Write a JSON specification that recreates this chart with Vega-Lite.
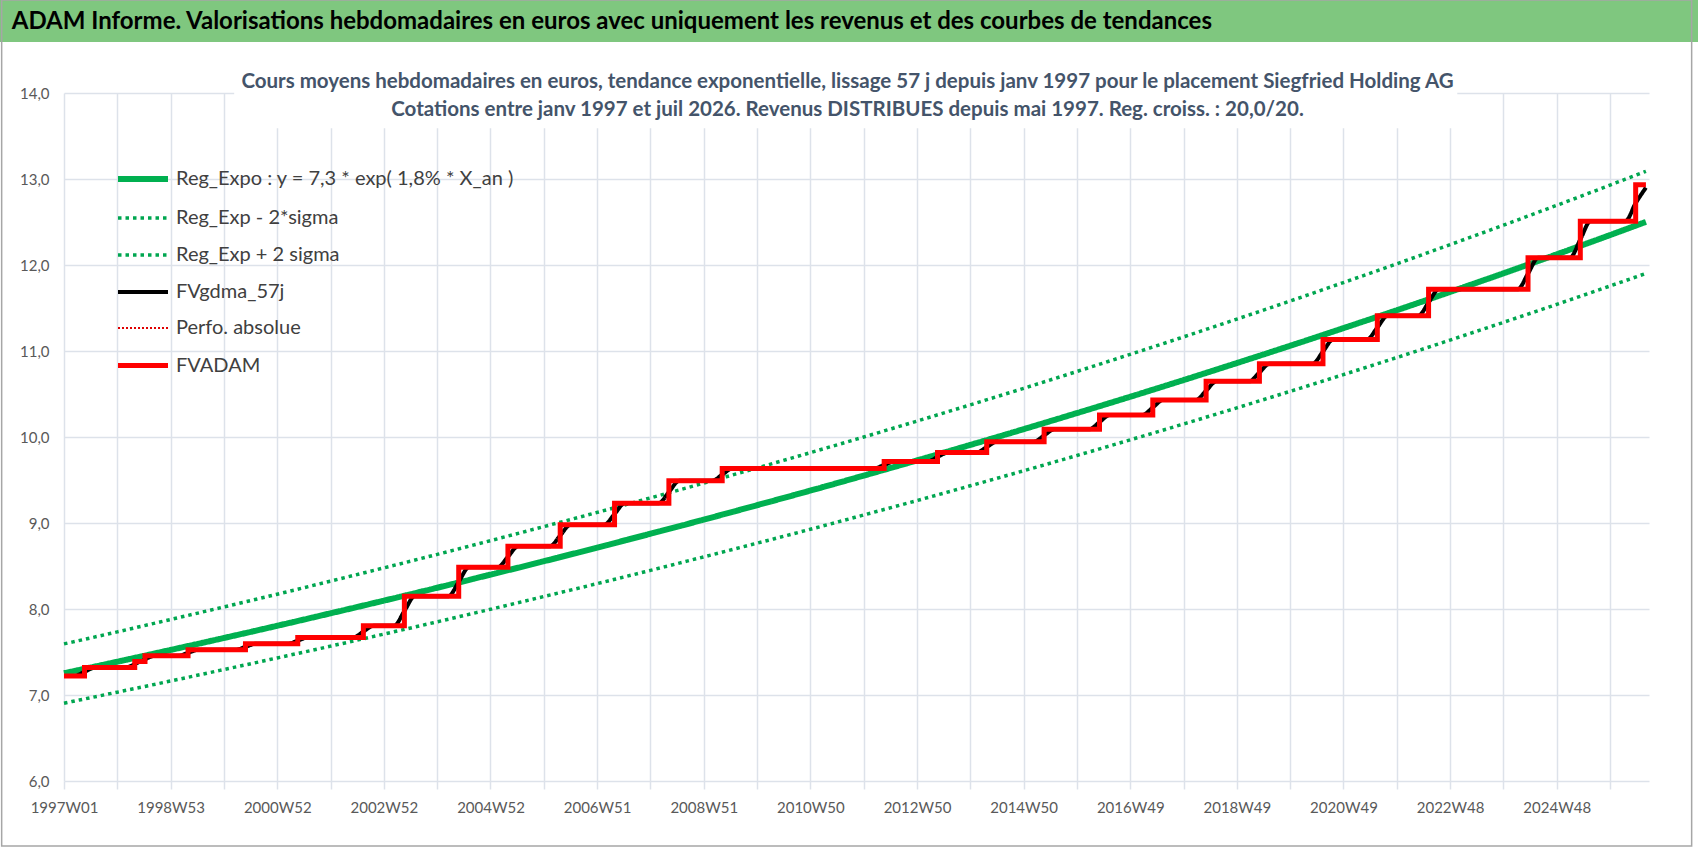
{
  "$schema": "https://vega.github.io/schema/vega-lite/v6.json",
  "autosize": {"type": "none"},
  "padding": {"left": 64, "top": 93, "right": 49, "bottom": 67},
  "width": 1585,
  "height": 688,
  "background": "white",
  "config": {
    "font": "Lato",
    "view": {"stroke": null}
  },
  "title": {
    "text": [
      "Cours moyens hebdomadaires en euros, tendance exponentielle, lissage 57 j depuis janv 1997 pour le placement Siegfried  Holding AG",
      "Cotations entre janv 1997 et juil 2026. Revenus DISTRIBUES depuis mai 1997. Reg. croiss. : 20,0/20."
    ],
    "font": "Lato",
    "fontSize": 20.5,
    "fontWeight": "bold",
    "color": "#44546a",
    "anchor": "middle",
    "frame": "group",
    "lineHeight": 28,
    "offset": -121,
    "dx": -9
  },
  "data": {
    "values": [
      {"s": "Reg_Expo : y = 7,3 * exp( 1,8% *  X_an )", "w": 0, "v": 7.253},
      {"s": "Reg_Expo : y = 7,3 * exp( 1,8% *  X_an )", "w": 52, "v": 7.387},
      {"s": "Reg_Expo : y = 7,3 * exp( 1,8% *  X_an )", "w": 104, "v": 7.524},
      {"s": "Reg_Expo : y = 7,3 * exp( 1,8% *  X_an )", "w": 156, "v": 7.663},
      {"s": "Reg_Expo : y = 7,3 * exp( 1,8% *  X_an )", "w": 208, "v": 7.805},
      {"s": "Reg_Expo : y = 7,3 * exp( 1,8% *  X_an )", "w": 260, "v": 7.950},
      {"s": "Reg_Expo : y = 7,3 * exp( 1,8% *  X_an )", "w": 312, "v": 8.097},
      {"s": "Reg_Expo : y = 7,3 * exp( 1,8% *  X_an )", "w": 364, "v": 8.247},
      {"s": "Reg_Expo : y = 7,3 * exp( 1,8% *  X_an )", "w": 416, "v": 8.400},
      {"s": "Reg_Expo : y = 7,3 * exp( 1,8% *  X_an )", "w": 468, "v": 8.555},
      {"s": "Reg_Expo : y = 7,3 * exp( 1,8% *  X_an )", "w": 520, "v": 8.714},
      {"s": "Reg_Expo : y = 7,3 * exp( 1,8% *  X_an )", "w": 572, "v": 8.875},
      {"s": "Reg_Expo : y = 7,3 * exp( 1,8% *  X_an )", "w": 624, "v": 9.039},
      {"s": "Reg_Expo : y = 7,3 * exp( 1,8% *  X_an )", "w": 676, "v": 9.207},
      {"s": "Reg_Expo : y = 7,3 * exp( 1,8% *  X_an )", "w": 728, "v": 9.377},
      {"s": "Reg_Expo : y = 7,3 * exp( 1,8% *  X_an )", "w": 780, "v": 9.551},
      {"s": "Reg_Expo : y = 7,3 * exp( 1,8% *  X_an )", "w": 832, "v": 9.728},
      {"s": "Reg_Expo : y = 7,3 * exp( 1,8% *  X_an )", "w": 884, "v": 9.908},
      {"s": "Reg_Expo : y = 7,3 * exp( 1,8% *  X_an )", "w": 936, "v": 10.091},
      {"s": "Reg_Expo : y = 7,3 * exp( 1,8% *  X_an )", "w": 988, "v": 10.278},
      {"s": "Reg_Expo : y = 7,3 * exp( 1,8% *  X_an )", "w": 1040, "v": 10.468},
      {"s": "Reg_Expo : y = 7,3 * exp( 1,8% *  X_an )", "w": 1092, "v": 10.662},
      {"s": "Reg_Expo : y = 7,3 * exp( 1,8% *  X_an )", "w": 1144, "v": 10.860},
      {"s": "Reg_Expo : y = 7,3 * exp( 1,8% *  X_an )", "w": 1196, "v": 11.061},
      {"s": "Reg_Expo : y = 7,3 * exp( 1,8% *  X_an )", "w": 1248, "v": 11.266},
      {"s": "Reg_Expo : y = 7,3 * exp( 1,8% *  X_an )", "w": 1300, "v": 11.474},
      {"s": "Reg_Expo : y = 7,3 * exp( 1,8% *  X_an )", "w": 1352, "v": 11.687},
      {"s": "Reg_Expo : y = 7,3 * exp( 1,8% *  X_an )", "w": 1404, "v": 11.903},
      {"s": "Reg_Expo : y = 7,3 * exp( 1,8% *  X_an )", "w": 1456, "v": 12.124},
      {"s": "Reg_Expo : y = 7,3 * exp( 1,8% *  X_an )", "w": 1508, "v": 12.348},
      {"s": "Reg_Expo : y = 7,3 * exp( 1,8% *  X_an )", "w": 1543, "v": 12.502},

      {"s": "Reg_Exp - 2*sigma", "w": 0, "v": 6.905},
      {"s": "Reg_Exp - 2*sigma", "w": 52, "v": 7.033},
      {"s": "Reg_Exp - 2*sigma", "w": 104, "v": 7.163},
      {"s": "Reg_Exp - 2*sigma", "w": 156, "v": 7.296},
      {"s": "Reg_Exp - 2*sigma", "w": 208, "v": 7.431},
      {"s": "Reg_Exp - 2*sigma", "w": 260, "v": 7.568},
      {"s": "Reg_Exp - 2*sigma", "w": 312, "v": 7.708},
      {"s": "Reg_Exp - 2*sigma", "w": 364, "v": 7.851},
      {"s": "Reg_Exp - 2*sigma", "w": 416, "v": 7.997},
      {"s": "Reg_Exp - 2*sigma", "w": 468, "v": 8.145},
      {"s": "Reg_Exp - 2*sigma", "w": 520, "v": 8.295},
      {"s": "Reg_Exp - 2*sigma", "w": 572, "v": 8.449},
      {"s": "Reg_Exp - 2*sigma", "w": 624, "v": 8.606},
      {"s": "Reg_Exp - 2*sigma", "w": 676, "v": 8.765},
      {"s": "Reg_Exp - 2*sigma", "w": 728, "v": 8.927},
      {"s": "Reg_Exp - 2*sigma", "w": 780, "v": 9.093},
      {"s": "Reg_Exp - 2*sigma", "w": 832, "v": 9.261},
      {"s": "Reg_Exp - 2*sigma", "w": 884, "v": 9.433},
      {"s": "Reg_Exp - 2*sigma", "w": 936, "v": 9.607},
      {"s": "Reg_Exp - 2*sigma", "w": 988, "v": 9.785},
      {"s": "Reg_Exp - 2*sigma", "w": 1040, "v": 9.967},
      {"s": "Reg_Exp - 2*sigma", "w": 1092, "v": 10.151},
      {"s": "Reg_Exp - 2*sigma", "w": 1144, "v": 10.339},
      {"s": "Reg_Exp - 2*sigma", "w": 1196, "v": 10.531},
      {"s": "Reg_Exp - 2*sigma", "w": 1248, "v": 10.726},
      {"s": "Reg_Exp - 2*sigma", "w": 1300, "v": 10.924},
      {"s": "Reg_Exp - 2*sigma", "w": 1352, "v": 11.127},
      {"s": "Reg_Exp - 2*sigma", "w": 1404, "v": 11.333},
      {"s": "Reg_Exp - 2*sigma", "w": 1456, "v": 11.542},
      {"s": "Reg_Exp - 2*sigma", "w": 1508, "v": 11.756},
      {"s": "Reg_Exp - 2*sigma", "w": 1543, "v": 11.902},

      {"s": "Reg_Exp + 2 sigma", "w": 0, "v": 7.594},
      {"s": "Reg_Exp + 2 sigma", "w": 52, "v": 7.734},
      {"s": "Reg_Exp + 2 sigma", "w": 104, "v": 7.878},
      {"s": "Reg_Exp + 2 sigma", "w": 156, "v": 8.024},
      {"s": "Reg_Exp + 2 sigma", "w": 208, "v": 8.172},
      {"s": "Reg_Exp + 2 sigma", "w": 260, "v": 8.324},
      {"s": "Reg_Exp + 2 sigma", "w": 312, "v": 8.478},
      {"s": "Reg_Exp + 2 sigma", "w": 364, "v": 8.635},
      {"s": "Reg_Exp + 2 sigma", "w": 416, "v": 8.795},
      {"s": "Reg_Exp + 2 sigma", "w": 468, "v": 8.958},
      {"s": "Reg_Exp + 2 sigma", "w": 520, "v": 9.123},
      {"s": "Reg_Exp + 2 sigma", "w": 572, "v": 9.292},
      {"s": "Reg_Exp + 2 sigma", "w": 624, "v": 9.464},
      {"s": "Reg_Exp + 2 sigma", "w": 676, "v": 9.640},
      {"s": "Reg_Exp + 2 sigma", "w": 728, "v": 9.818},
      {"s": "Reg_Exp + 2 sigma", "w": 780, "v": 10.000},
      {"s": "Reg_Exp + 2 sigma", "w": 832, "v": 10.185},
      {"s": "Reg_Exp + 2 sigma", "w": 884, "v": 10.374},
      {"s": "Reg_Exp + 2 sigma", "w": 936, "v": 10.566},
      {"s": "Reg_Exp + 2 sigma", "w": 988, "v": 10.762},
      {"s": "Reg_Exp + 2 sigma", "w": 1040, "v": 10.961},
      {"s": "Reg_Exp + 2 sigma", "w": 1092, "v": 11.164},
      {"s": "Reg_Exp + 2 sigma", "w": 1144, "v": 11.371},
      {"s": "Reg_Exp + 2 sigma", "w": 1196, "v": 11.581},
      {"s": "Reg_Exp + 2 sigma", "w": 1248, "v": 11.796},
      {"s": "Reg_Exp + 2 sigma", "w": 1300, "v": 12.014},
      {"s": "Reg_Exp + 2 sigma", "w": 1352, "v": 12.237},
      {"s": "Reg_Exp + 2 sigma", "w": 1404, "v": 12.463},
      {"s": "Reg_Exp + 2 sigma", "w": 1456, "v": 12.694},
      {"s": "Reg_Exp + 2 sigma", "w": 1508, "v": 12.929},
      {"s": "Reg_Exp + 2 sigma", "w": 1543, "v": 13.090},

      {"s": "FVgdma_57j", "w": 0, "v": 7.222}, {"s": "FVgdma_57j", "w": 10, "v": 7.222}, {"s": "FVgdma_57j", "w": 20, "v": 7.27}, {"s": "FVgdma_57j", "w": 30, "v": 7.319},
      {"s": "FVgdma_57j", "w": 59, "v": 7.319}, {"s": "FVgdma_57j", "w": 74, "v": 7.387}, {"s": "FVgdma_57j", "w": 89, "v": 7.455},
      {"s": "FVgdma_57j", "w": 111, "v": 7.455}, {"s": "FVgdma_57j", "w": 121, "v": 7.49}, {"s": "FVgdma_57j", "w": 131, "v": 7.525},
      {"s": "FVgdma_57j", "w": 167, "v": 7.525}, {"s": "FVgdma_57j", "w": 177, "v": 7.56}, {"s": "FVgdma_57j", "w": 187, "v": 7.595},
      {"s": "FVgdma_57j", "w": 218, "v": 7.595}, {"s": "FVgdma_57j", "w": 228, "v": 7.632}, {"s": "FVgdma_57j", "w": 238, "v": 7.669},
      {"s": "FVgdma_57j", "w": 282, "v": 7.669}, {"s": "FVgdma_57j", "w": 292, "v": 7.737}, {"s": "FVgdma_57j", "w": 302, "v": 7.805},
      {"s": "FVgdma_57j", "w": 322, "v": 7.805}, {"s": "FVgdma_57j", "w": 332, "v": 7.976}, {"s": "FVgdma_57j", "w": 342, "v": 8.148},
      {"s": "FVgdma_57j", "w": 375, "v": 8.148}, {"s": "FVgdma_57j", "w": 385, "v": 8.316}, {"s": "FVgdma_57j", "w": 395, "v": 8.485},
      {"s": "FVgdma_57j", "w": 423, "v": 8.485}, {"s": "FVgdma_57j", "w": 433, "v": 8.607}, {"s": "FVgdma_57j", "w": 443, "v": 8.73},
      {"s": "FVgdma_57j", "w": 474, "v": 8.73}, {"s": "FVgdma_57j", "w": 484, "v": 8.855}, {"s": "FVgdma_57j", "w": 494, "v": 8.98},
      {"s": "FVgdma_57j", "w": 527, "v": 8.98}, {"s": "FVgdma_57j", "w": 537, "v": 9.105}, {"s": "FVgdma_57j", "w": 547, "v": 9.23},
      {"s": "FVgdma_57j", "w": 580, "v": 9.23}, {"s": "FVgdma_57j", "w": 590, "v": 9.36}, {"s": "FVgdma_57j", "w": 600, "v": 9.49},
      {"s": "FVgdma_57j", "w": 632, "v": 9.49}, {"s": "FVgdma_57j", "w": 642, "v": 9.562}, {"s": "FVgdma_57j", "w": 652, "v": 9.635},
      {"s": "FVgdma_57j", "w": 790, "v": 9.635}, {"s": "FVgdma_57j", "w": 800, "v": 9.675}, {"s": "FVgdma_57j", "w": 810, "v": 9.715},
      {"s": "FVgdma_57j", "w": 842, "v": 9.715}, {"s": "FVgdma_57j", "w": 852, "v": 9.767}, {"s": "FVgdma_57j", "w": 862, "v": 9.82},
      {"s": "FVgdma_57j", "w": 890, "v": 9.82}, {"s": "FVgdma_57j", "w": 900, "v": 9.883}, {"s": "FVgdma_57j", "w": 910, "v": 9.946},
      {"s": "FVgdma_57j", "w": 946, "v": 9.946}, {"s": "FVgdma_57j", "w": 956, "v": 10.018}, {"s": "FVgdma_57j", "w": 966, "v": 10.09},
      {"s": "FVgdma_57j", "w": 1000, "v": 10.09}, {"s": "FVgdma_57j", "w": 1010, "v": 10.173}, {"s": "FVgdma_57j", "w": 1020, "v": 10.256},
      {"s": "FVgdma_57j", "w": 1052, "v": 10.256}, {"s": "FVgdma_57j", "w": 1062, "v": 10.343}, {"s": "FVgdma_57j", "w": 1072, "v": 10.43},
      {"s": "FVgdma_57j", "w": 1104, "v": 10.43}, {"s": "FVgdma_57j", "w": 1114, "v": 10.538}, {"s": "FVgdma_57j", "w": 1124, "v": 10.647},
      {"s": "FVgdma_57j", "w": 1156, "v": 10.647}, {"s": "FVgdma_57j", "w": 1166, "v": 10.75}, {"s": "FVgdma_57j", "w": 1176, "v": 10.853},
      {"s": "FVgdma_57j", "w": 1218, "v": 10.853}, {"s": "FVgdma_57j", "w": 1228, "v": 10.994}, {"s": "FVgdma_57j", "w": 1238, "v": 11.135},
      {"s": "FVgdma_57j", "w": 1271, "v": 11.135}, {"s": "FVgdma_57j", "w": 1281, "v": 11.272}, {"s": "FVgdma_57j", "w": 1291, "v": 11.41},
      {"s": "FVgdma_57j", "w": 1321, "v": 11.41}, {"s": "FVgdma_57j", "w": 1331, "v": 11.564}, {"s": "FVgdma_57j", "w": 1341, "v": 11.718},
      {"s": "FVgdma_57j", "w": 1418, "v": 11.718}, {"s": "FVgdma_57j", "w": 1428, "v": 11.9}, {"s": "FVgdma_57j", "w": 1438, "v": 12.085},
      {"s": "FVgdma_57j", "w": 1469, "v": 12.085}, {"s": "FVgdma_57j", "w": 1479, "v": 12.297}, {"s": "FVgdma_57j", "w": 1489, "v": 12.51},
      {"s": "FVgdma_57j", "w": 1523, "v": 12.51}, {"s": "FVgdma_57j", "w": 1533, "v": 12.72}, {"s": "FVgdma_57j", "w": 1543, "v": 12.9},

      {"s": "FVADAM", "w": 0, "v": 7.222},
      {"s": "FVADAM", "w": 20, "v": 7.319},
      {"s": "FVADAM", "w": 69, "v": 7.389},
      {"s": "FVADAM", "w": 79, "v": 7.455},
      {"s": "FVADAM", "w": 121, "v": 7.525},
      {"s": "FVADAM", "w": 177, "v": 7.595},
      {"s": "FVADAM", "w": 228, "v": 7.669},
      {"s": "FVADAM", "w": 292, "v": 7.805},
      {"s": "FVADAM", "w": 332, "v": 8.148},
      {"s": "FVADAM", "w": 385, "v": 8.485},
      {"s": "FVADAM", "w": 433, "v": 8.73},
      {"s": "FVADAM", "w": 484, "v": 8.98},
      {"s": "FVADAM", "w": 537, "v": 9.23},
      {"s": "FVADAM", "w": 590, "v": 9.49},
      {"s": "FVADAM", "w": 642, "v": 9.635},
      {"s": "FVADAM", "w": 800, "v": 9.715},
      {"s": "FVADAM", "w": 852, "v": 9.82},
      {"s": "FVADAM", "w": 900, "v": 9.946},
      {"s": "FVADAM", "w": 956, "v": 10.09},
      {"s": "FVADAM", "w": 1010, "v": 10.256},
      {"s": "FVADAM", "w": 1062, "v": 10.43},
      {"s": "FVADAM", "w": 1114, "v": 10.647},
      {"s": "FVADAM", "w": 1166, "v": 10.853},
      {"s": "FVADAM", "w": 1228, "v": 11.135},
      {"s": "FVADAM", "w": 1281, "v": 11.41},
      {"s": "FVADAM", "w": 1331, "v": 11.718},
      {"s": "FVADAM", "w": 1428, "v": 12.085},
      {"s": "FVADAM", "w": 1479, "v": 12.51},
      {"s": "FVADAM", "w": 1533, "v": 12.934},
      {"s": "FVADAM", "w": 1543, "v": 12.934}
    ]
  },
  "encoding": {
    "x": {
      "field": "w",
      "type": "quantitative",
      "scale": {"domain": [0, 1546], "nice": false, "zero": false},
      "axis": {
        "title": null,
        "values": [0, 52, 104, 156, 208, 260, 312, 364, 416, 468, 520, 572, 624, 676, 728, 780, 832, 884, 936, 988, 1040, 1092, 1144, 1196, 1248, 1300, 1352, 1404, 1456, 1508],
        "labelExpr": "['1997W01','','1998W53','','2000W52','','2002W52','','2004W52','','2006W51','','2008W51','','2010W50','','2012W50','','2014W50','','2016W49','','2018W49','','2020W49','','2022W48','','2024W48',''][round(datum.value / 52)]",
        "domain": false,
        "ticks": true,
        "tickSize": 8,
        "tickColor": "#dde2ea",
        "tickWidth": 1.5,
        "grid": true,
        "gridColor": "#dde2ea",
        "gridWidth": 1.5,
        "labelFont": "Lato",
        "labelFontSize": 15,
        "labelColor": "#595959",
        "labelPadding": 11,
        "labelFlush": false,
        "labelOverlap": false
      }
    },
    "y": {
      "field": "v",
      "type": "quantitative",
      "scale": {"domain": [6, 14], "nice": false, "zero": false},
      "axis": {
        "title": null,
        "values": [6, 7, 8, 9, 10, 11, 12, 13, 14],
        "labelExpr": "replace(format(datum.value, '.1f'), '.', ',')",
        "domain": false,
        "ticks": false,
        "grid": true,
        "gridColor": "#dde2ea",
        "gridWidth": 1.5,
        "labelFont": "Lato",
        "labelFontSize": 15,
        "labelColor": "#595959",
        "labelPadding": 15
      }
    },
    "color": {
      "field": "s",
      "type": "nominal",
      "scale": {
        "domain": ["Reg_Expo : y = 7,3 * exp( 1,8% *  X_an )", "Reg_Exp - 2*sigma", "Reg_Exp + 2 sigma", "FVgdma_57j", "Perfo. absolue", "FVADAM"],
        "range": ["#00b050", "#00a650", "#00a650", "#000000", "#e00000", "#ff0000"]
      },
      "legend": {
        "title": null,
        "orient": "none",
        "legendX": 51,
        "legendY": 58,
        "symbolType": "stroke",
        "symbolSize": 2500,
        "labelFont": "Lato",
        "labelFontSize": 20,
        "labelColor": "#404040",
        "labelOffset": 5,
        "labelLimit": 700,
        "rowPadding": -15
      }
    },
    "strokeDash": {
      "field": "s",
      "type": "nominal",
      "scale": {
        "domain": ["Reg_Expo : y = 7,3 * exp( 1,8% *  X_an )", "Reg_Exp - 2*sigma", "Reg_Exp + 2 sigma", "FVgdma_57j", "Perfo. absolue", "FVADAM"],
        "range": [[1, 0], [3.5, 4], [3.5, 4], [1, 0], [2, 2], [1, 0]]
      },
      "legend": null
    },
    "strokeWidth": {
      "field": "s",
      "type": "nominal",
      "scale": {
        "type": "ordinal",
        "domain": ["Reg_Expo : y = 7,3 * exp( 1,8% *  X_an )", "Reg_Exp - 2*sigma", "Reg_Exp + 2 sigma", "FVgdma_57j", "Perfo. absolue", "FVADAM"],
        "range": [6, 3.5, 3.5, 4, 2, 5]
      },
      "legend": null
    }
  },
  "layer": [
    {
      "transform": [{"filter": "datum.s == 'Reg_Expo : y = 7,3 * exp( 1,8% *  X_an )'"}],
      "mark": {"type": "line", "interpolate": "monotone"}
    },
    {
      "transform": [{"filter": "datum.s == 'Reg_Exp - 2*sigma' || datum.s == 'Reg_Exp + 2 sigma'"}],
      "mark": {"type": "line", "interpolate": "monotone"}
    },
    {
      "transform": [{"filter": "datum.s == 'FVgdma_57j'"}],
      "mark": {"type": "line", "interpolate": "monotone"}
    },
    {
      "transform": [{"filter": "datum.s == 'FVADAM'"}],
      "mark": {"type": "line", "interpolate": "step-after"}
    },
    {
      "data": {"values": [{"x1": 166, "x2": 1359, "y1": 13.59, "y2": 14.45}]},
      "mark": {"type": "rect", "fill": "white", "clip": false},
      "encoding": {
        "x": {"field": "x1", "type": "quantitative"},
        "x2": {"field": "x2"},
        "y": {"field": "y1", "type": "quantitative"},
        "y2": {"field": "y2"},
        "color": {"value": "white"},
        "strokeDash": {"value": [1, 0]},
        "strokeWidth": {"value": 0}
      }
    },
    {
      "data": {"values": [{"x1": -62.7, "x2": 1594, "y1": 14.593, "y2": 15.08}]},
      "mark": {"type": "rect", "fill": "#7fc77f", "clip": false},
      "encoding": {
        "x": {"field": "x1", "type": "quantitative"},
        "x2": {"field": "x2"},
        "y": {"field": "y1", "type": "quantitative"},
        "y2": {"field": "y2"},
        "color": {"value": "#7fc77f"},
        "strokeDash": {"value": [1, 0]},
        "strokeWidth": {"value": 0}
      }
    },
    {
      "data": {"values": [{"x1": -60.8, "x2": 1587.6, "y1": 5.244, "y2": 15.08}]},
      "mark": {"type": "rect", "filled": false, "clip": false},
      "encoding": {
        "x": {"field": "x1", "type": "quantitative"},
        "x2": {"field": "x2"},
        "y": {"field": "y1", "type": "quantitative"},
        "y2": {"field": "y2"},
        "color": {"value": "#a6a6a6"},
        "strokeDash": {"value": [1, 0]},
        "strokeWidth": {"value": 1.5}
      }
    },
    {
      "data": {"values": [{"t": "ADAM Informe. Valorisations hebdomadaires en euros avec uniquement les revenus et des courbes de tendances", "x1": -62.7, "y1": 14.84}]},
      "mark": {"type": "text", "align": "left", "baseline": "middle", "font": "Lato", "fontSize": 24, "fontWeight": "bold", "dx": 12, "dy": 1, "clip": false},
      "encoding": {
        "text": {"field": "t"},
        "x": {"field": "x1", "type": "quantitative"},
        "y": {"field": "y1", "type": "quantitative"},
        "color": {"value": "black"},
        "strokeDash": {"value": [1, 0]},
        "strokeWidth": {"value": 0}
      }
    }
  ]
}
